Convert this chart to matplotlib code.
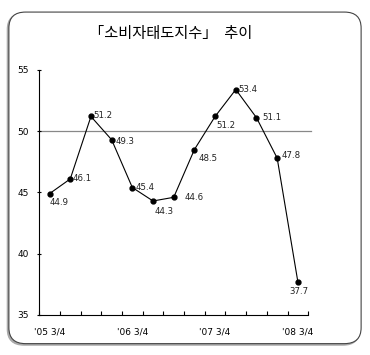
import numpy as np
import matplotlib
matplotlib.use("Agg")
import matplotlib.pyplot as plt
from matplotlib.patches import FancyBboxPatch

plt.rcParams['font.family'] = ['Noto Sans CJK KR', 'DejaVu Sans']

# data
values = [44.9, 46.1, 51.2, 49.3, 45.4, 44.3, 44.6, 48.5, 51.2, 53.4, 51.1, 47.8, 37.7]
tick_labels = ["'05 3/4", "'06 3/4", "'07 3/4", "'08 3/4"]
tick_index = [0, 4, 8, 12]
title = "「소비자태도지수」  추이"

# label offsets in points (dx, dy) and alignment
offsets = [(0, -3, 'left'), (2, 0, 'left'), (2, 1, 'left'), (3, -1, 'left'),
           (2, 0, 'left'), (1, -4, 'left'), (8, 0, 'left'), (3, -3.5, 'left'),
           (1, -3, 'left'), (2, 0, 'left'), (4, 0, 'left'), (3, 2, 'left'),
           (1, -4, 'center')]

fig = plt.figure(figsize=(3.7, 3.55), dpi=100)

# rounded frame with shadow on left and bottom
shadow = FancyBboxPatch((0.02, 0.028), 0.952, 0.934, boxstyle="round,pad=0,rounding_size=0.045",
                        transform=fig.transFigure, fc='#aaaaaa', ec='#aaaaaa', lw=1.0, zorder=-11)
frame = FancyBboxPatch((0.024, 0.032), 0.952, 0.934, boxstyle="round,pad=0,rounding_size=0.045",
                       transform=fig.transFigure, fc='white', ec='#444444', lw=0.8, zorder=-10)
fig.patches.append(shadow)
fig.patches.append(frame)

fig.text(0.46, 0.905, title, ha='center', va='center', fontsize=11)

ax = fig.add_axes([0.106, 0.113, 0.727, 0.69])
ax.set_facecolor('none')
x = np.arange(len(values))
ax.plot(x, values, color='black', lw=0.8, marker='o', markersize=3.5)
ax.axhline(50, color='#888888', lw=0.9, xmax=1.01, clip_on=False, zorder=0)

for i, v in enumerate(values):
    dx, dy, ha = offsets[i]
    va = 'center' if dy > -2 else 'top'
    ax.annotate(f"{v}", (i, v), xytext=(dx, dy), textcoords='offset points',
                ha=ha, va=va, fontsize=6.2, family='DejaVu Sans', color='#222222')

ax.set_xlim(-0.5, 12.5)
ax.set_ylim(35, 55)
ax.set_yticks([35, 40, 45, 50, 55])
ax.set_xticks(tick_index)
ax.set_xticklabels(tick_labels, family='DejaVu Sans')
ax.set_xticks(np.arange(-0.5, 13, 1), minor=True)
ax.tick_params(axis='x', which='major', length=0, labelsize=6.5, pad=9)
ax.tick_params(axis='x', which='minor', direction='in', length=3, width=0.8)
ax.tick_params(axis='y', direction='inout', length=3, width=0.8, labelsize=6.5, pad=6)
for lab in ax.get_yticklabels():
    lab.set_family('DejaVu Sans')
ax.spines['top'].set_visible(False)
ax.spines['right'].set_visible(False)
ax.spines['left'].set_linewidth(0.8)
ax.spines['bottom'].set_linewidth(0.8)

fig.savefig("out.png", dpi=100)
